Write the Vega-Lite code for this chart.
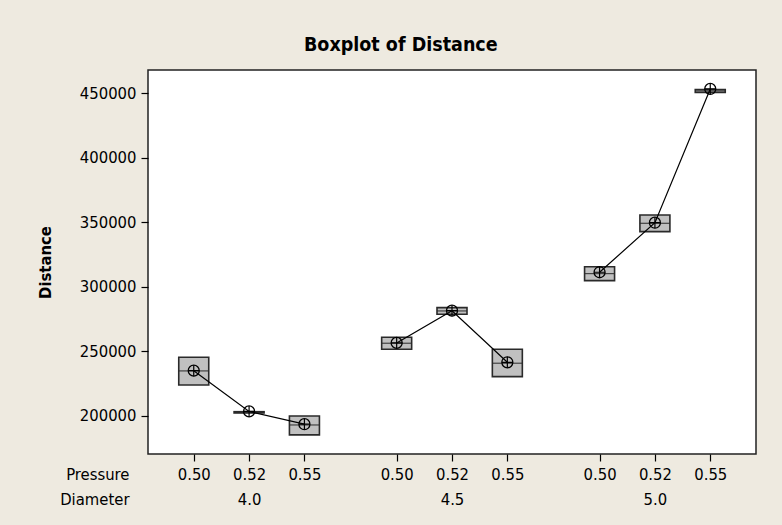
{
  "$schema": "https://vega.github.io/schema/vega-lite/v6.json",
  "width": 608,
  "height": 384,
  "autosize": {"type": "none"},
  "padding": {"left": 148, "top": 70, "right": 26, "bottom": 71},
  "background": "#EEEAE0",
  "title": {
    "text": "Boxplot of Distance",
    "anchor": "start",
    "frame": "group",
    "dx": 156,
    "offset": 0,
    "baseline": "alphabetic",
    "font": "DejaVu Sans Condensed",
    "fontSize": 19.5,
    "fontWeight": "bold",
    "color": "#000000"
  },
  "data": {
    "values": [
      {"Diameter": "4.0", "Pressure": "0.50", "cell": "4.0|0.50", "q1": 224000, "q3": 245500, "median": 234900, "mean": 235100},
      {"Diameter": "4.0", "Pressure": "0.52", "cell": "4.0|0.52", "q1": 202300, "q3": 203300, "median": 202800, "mean": 203500},
      {"Diameter": "4.0", "Pressure": "0.55", "cell": "4.0|0.55", "q1": 185300, "q3": 200000, "median": 193000, "mean": 193600},
      {"Diameter": "4.5", "Pressure": "0.50", "cell": "4.5|0.50", "q1": 251700, "q3": 261000, "median": 256400, "mean": 256600},
      {"Diameter": "4.5", "Pressure": "0.52", "cell": "4.5|0.52", "q1": 278800, "q3": 284000, "median": 281400, "mean": 281600},
      {"Diameter": "4.5", "Pressure": "0.55", "cell": "4.5|0.55", "q1": 230500, "q3": 251700, "median": 240900, "mean": 241600},
      {"Diameter": "5.0", "Pressure": "0.50", "cell": "5.0|0.50", "q1": 304900, "q3": 315700, "median": 310300, "mean": 311400},
      {"Diameter": "5.0", "Pressure": "0.52", "cell": "5.0|0.52", "q1": 342900, "q3": 355800, "median": 349400, "mean": 349800},
      {"Diameter": "5.0", "Pressure": "0.55", "cell": "5.0|0.55", "q1": 450800, "q3": 453000, "median": 451900, "mean": 453500}
    ]
  },
  "resolve": {"axis": {"x": "independent"}},
  "layer": [
    {
      "mark": {"type": "bar", "width": 30, "fill": "#C0C0C0", "stroke": "#2A2A2A", "strokeWidth": 1.6},
      "encoding": {
        "x": {
          "field": "cell",
          "type": "nominal",
          "scale": {
            "type": "point",
            "padding": 0.48,
            "domain": ["e1", "e2", "4.0|0.50", "s1", "s2", "4.0|0.52", "s3", "s4", "4.0|0.55", "s5", "s6", "s7", "s8", "4.5|0.50", "s9", "s10", "4.5|0.52", "s11", "s12", "4.5|0.55", "s13", "s14", "s15", "s16", "5.0|0.50", "s17", "s18", "5.0|0.52", "s19", "s20", "5.0|0.55", "e3", "e4"]
          },
          "axis": {
            "orient": "bottom",
            "values": ["4.0|0.50", "4.0|0.52", "4.0|0.55", "4.5|0.50", "4.5|0.52", "4.5|0.55", "5.0|0.50", "5.0|0.52", "5.0|0.55"],
            "labelExpr": "split(datum.value, '|')[1]",
            "ticks": true,
            "tickSize": 7,
            "tickWidth": 1.2,
            "tickColor": "#000000",
            "labelPadding": 18,
            "labelBaseline": "alphabetic",
            "labelAngle": 0,
            "title": "Pressure",
            "titleX": -19,
            "titleY": 25,
            "titleAlign": "right",
            "titleBaseline": "alphabetic",
            "titleAngle": 0,
            "titleFontWeight": "normal",
            "titleFontSize": 16.5
          }
        },
        "y": {
          "field": "q1",
          "type": "quantitative",
          "scale": {"domain": [170500, 468200], "nice": false, "zero": false},
          "axis": {
            "title": "Distance",
            "values": [200000, 250000, 300000, 350000, 400000, 450000],
            "format": "d",
            "ticks": true,
            "tickSize": 7,
            "tickWidth": 1.2,
            "tickColor": "#000000",
            "labelPadding": 5,
            "titleX": -103,
            "titleY": 192,
            "titleAngle": -90,
            "titleAlign": "center",
            "titleBaseline": "middle",
            "titleFontWeight": "bold",
            "titleFontSize": 16.5
          }
        },
        "y2": {"field": "q3"}
      }
    },
    {
      "mark": {"type": "tick", "size": 30, "thickness": 1, "color": "#2A2A2A", "opacity": 1},
      "encoding": {
        "x": {"field": "cell", "type": "nominal", "axis": null},
        "y": {"field": "median", "type": "quantitative"}
      }
    },
    {
      "mark": {"type": "line", "color": "#000000", "strokeWidth": 1.2},
      "encoding": {
        "x": {
          "field": "cell",
          "type": "nominal",
          "axis": {
            "orient": "bottom",
            "values": ["4.0|0.52", "4.5|0.52", "5.0|0.52"],
            "labelExpr": "split(datum.value, '|')[0]",
            "ticks": false,
            "labelPadding": 50,
            "labelBaseline": "alphabetic",
            "labelAngle": 0,
            "title": "Diameter",
            "titleX": -19,
            "titleY": 50,
            "titleAlign": "right",
            "titleBaseline": "alphabetic",
            "titleAngle": 0,
            "titleFontWeight": "normal",
            "titleFontSize": 16.5
          }
        },
        "y": {"field": "mean", "type": "quantitative"},
        "detail": {"field": "Diameter"}
      }
    },
    {
      "mark": {"type": "point", "shape": "circle", "size": 121, "filled": false, "stroke": "#000000", "strokeWidth": 1.3, "opacity": 1},
      "encoding": {
        "x": {"field": "cell", "type": "nominal", "axis": null},
        "y": {"field": "mean", "type": "quantitative"}
      }
    },
    {
      "mark": {"type": "point", "shape": "M-1,0H1M0,-1V1", "size": 121, "filled": false, "stroke": "#000000", "strokeWidth": 1.2, "opacity": 1},
      "encoding": {
        "x": {"field": "cell", "type": "nominal", "axis": null},
        "y": {"field": "mean", "type": "quantitative"}
      }
    }
  ],
  "config": {
    "view": {"stroke": "#222222", "strokeWidth": 1.5, "fill": "#FFFFFF"},
    "axis": {
      "labelFont": "DejaVu Sans Condensed",
      "labelFontSize": 16.5,
      "labelColor": "#000000",
      "titleFont": "DejaVu Sans Condensed",
      "titleColor": "#000000",
      "domain": false,
      "grid": false
    }
  }
}
